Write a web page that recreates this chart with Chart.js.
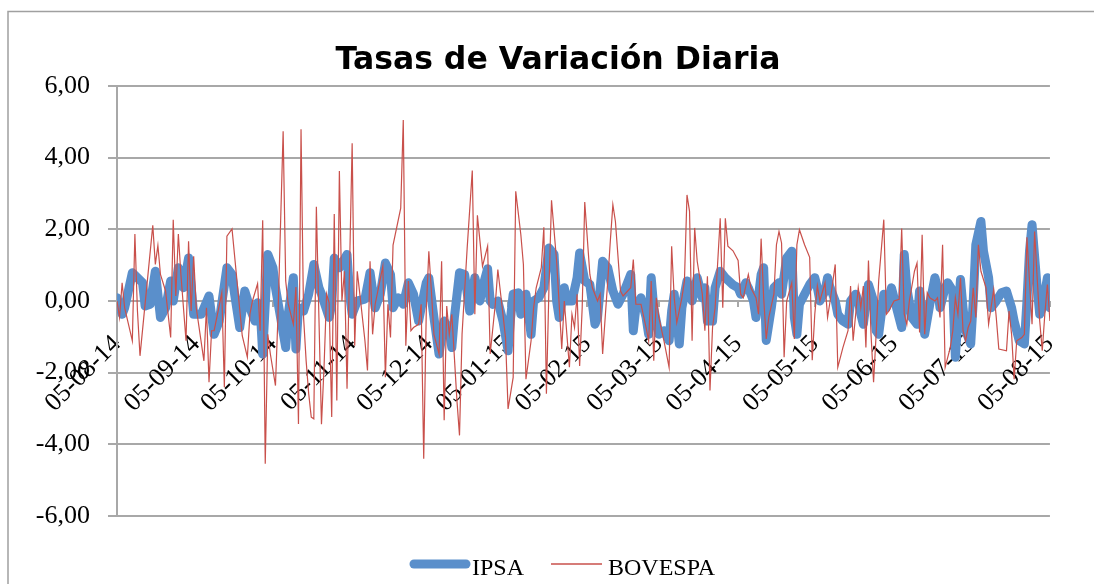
<!DOCTYPE html>
<html><head><meta charset="utf-8">
<script src="https://cdn.jsdelivr.net/npm/chart.js@4.4.1/dist/chart.umd.min.js"></script>
<style>html,body{margin:0;padding:0;background:#fff;}canvas{display:block;}</style>
</head><body>
<canvas id="c" width="1094" height="584" style="width:1094px;height:584px"></canvas>
<script>
// Day offsets are calendar days counted from 05-08-14 (day 0) to 05-08-15 (day 365)
const tickDays = [0, 31, 61, 92, 122, 153, 184, 212, 243, 273, 304, 334, 365];
const tickLabels = ["05-08-14","05-09-14","05-10-14","05-11-14","05-12-14","05-01-15","05-02-15","05-03-15","05-04-15","05-05-15","05-06-15","05-07-15","05-08-15"];

const ipsaDays = [0,2,3,6,8,10,11,13,15,17,19,21,22,24,26,28,30,33,36,38,40,43,45,46,48,50,52,54,55,56,57,59,61,62,64,66,67,69,70,71,73,75,77,79,80,83,84,85,87,90,91,92,94,97,99,101,103,105,107,108,110,112,114,116,118,119,121,122,124,126,128,130,131,132,134,136,138,140,142,143,145,146,147,149,151,153,154,155,157,158,160,162,163,165,167,169,171,172,173,175,176,178,180,181,183,185,187,188,190,192,194,196,198,201,202,203,205,207,208,209,210,212,214,216,217,218,220,221,223,225,227,229,230,231,233,234,236,238,241,243,244,246,247,249,250,252,253,254,256,257,259,260,262,264,265,266,267,269,271,273,274,275,277,278,279,281,282,284,286,287,289,290,291,292,294,296,297,298,300,301,303,305,307,308,309,311,313,314,315,316,318,320,321,322,324,325,327,328,330,331,332,334,335,336,338,339,341,342,344,346,348,350,351,353,355,356,357,358,360,361,362,364,365];
const ipsaValues = [0.09,-0.37,-0.19,0.79,0.65,0.51,-0.14,-0.09,0.83,-0.46,-0.19,0.56,0.00,0.93,0.37,1.20,-0.37,-0.37,0.14,-0.93,-0.56,0.93,0.74,0.20,-0.74,0.28,-0.19,-0.56,-0.05,-0.19,-1.48,1.30,0.93,0.37,-0.46,-1.30,-0.37,0.65,-1.34,-0.19,-0.28,0.19,1.02,0.37,0.19,-0.46,-0.09,1.20,0.93,1.30,0.19,-0.37,0.00,0.05,0.79,-0.19,0.19,1.06,0.74,-0.19,0.09,-0.09,0.51,0.19,-0.56,-0.19,0.51,0.65,-0.46,-1.48,-0.56,-0.83,-1.30,-0.46,0.79,0.74,-0.28,0.65,0.00,0.37,0.90,0.00,-0.09,0.00,-0.56,-1.39,-0.46,0.19,0.23,-0.37,0.19,-0.93,0.00,0.09,0.37,1.48,1.30,0.00,-0.46,0.37,0.00,0.00,0.65,1.34,0.56,0.46,-0.65,-0.46,1.11,0.93,0.28,-0.09,0.19,0.74,-0.83,-0.19,0.09,-0.46,-0.93,0.65,-0.19,-0.93,-0.83,-1.11,-0.28,0.19,-1.20,-0.19,0.56,0.00,0.65,0.09,0.37,-0.56,-0.56,0.37,0.83,0.65,0.45,0.37,0.19,0.51,0.37,0.00,-0.46,0.74,0.93,-1.10,-0.19,0.37,0.51,0.19,1.20,1.39,-0.46,-0.93,-0.09,0.19,0.46,0.65,0.37,0.00,0.28,0.65,0.37,0.00,-0.37,-0.56,-0.65,0.00,0.19,0.00,-0.37,-0.65,0.46,0.00,-0.83,-0.93,0.19,-0.19,0.37,-0.19,-0.74,1.30,0.37,-0.46,-0.65,0.28,-0.28,-0.93,-0.09,0.65,0.37,-0.19,0.37,0.51,0.28,-1.57,0.60,-0.19,-0.83,-1.20,0.00,1.57,2.22,1.39,0.65,-0.19,0.00,0.23,0.28,-0.19,-0.56,-1.11,-1.20,0.00,1.39,2.13,0.37,-0.37,-0.19,0.65,-0.19];

const bovespaDays = [0,1,2,3,6,7,8,9,14,15,16,17,19,21,22,23,24,25,27,28,29,30,31,34,35,36,37,38,41,42,43,45,49,51,52,53,55,56,57,58,59,60,62,63,65,66,67,69,70,71,72,73,74,75,76,77,78,79,80,81,82,83,84,85,86,87,88,89,90,92,93,94,95,97,98,99,100,101,104,105,106,107,108,111,112,113,114,115,116,118,119,120,121,122,123,124,126,127,128,129,130,131,133,134,135,137,139,140,141,142,143,145,146,148,149,151,152,153,155,156,158,159,160,162,163,164,166,167,168,169,170,172,173,174,175,176,177,178,179,180,181,182,183,185,186,188,189,190,192,193,194,195,197,198,201,202,203,205,207,208,209,210,211,212,214,216,217,218,219,221,222,223,224,225,226,227,229,230,231,232,233,234,236,237,238,239,241,243,244,245,247,248,250,251,252,253,254,255,257,258,259,260,261,262,264,265,266,267,269,271,272,273,274,275,277,278,279,281,282,284,286,287,288,289,290,291,292,293,294,295,296,297,298,300,301,302,304,306,307,308,309,310,312,313,314,315,316,317,318,320,321,322,323,324,326,327,328,329,330,331,332,333,334,335,336,337,338,340,341,343,344,345,348,349,350,351,352,354,355,356,357,358,359,360,361,362,363,364,365];
const bovespaValues = [0.00,-0.46,0.51,-0.19,-1.11,1.87,-0.28,-1.53,2.11,1.02,1.55,0.74,0.28,-1.02,2.27,0.14,1.87,0.74,-1.11,1.67,-0.28,1.25,-0.19,-1.67,-0.19,-2.27,-0.83,-0.83,0.23,-2.41,1.81,2.01,-0.97,-1.57,-0.37,0.00,0.48,-0.83,2.25,-4.54,-0.93,-1.48,-2.36,-0.37,4.74,0.56,-0.09,-0.65,0.39,-3.43,4.79,-0.46,-1.67,-2.59,-3.24,-3.29,2.63,-0.46,-3.44,-1.85,0.20,-0.05,-3.24,2.43,-2.78,3.63,0.00,0.83,-2.45,4.40,-1.25,0.83,0.20,-1.11,-1.94,1.11,-0.93,-0.09,0.97,-2.13,-0.09,-1.02,1.56,2.59,5.05,-1.25,0.56,-0.83,-0.74,-0.65,-0.09,-4.40,-0.28,1.39,0.28,-0.93,-1.48,1.11,-3.33,-0.14,-0.93,-0.37,-2.78,-3.75,-0.93,1.48,3.64,-0.37,2.39,1.67,0.97,1.53,-1.48,-0.09,0.88,-0.37,-1.02,-3.01,-2.13,3.06,1.85,1.02,-2.18,-1.11,-0.19,0.37,0.93,2.06,-2.59,0.37,2.81,1.11,-0.09,-1.34,0.00,-0.93,-1.85,-0.37,-0.74,0.19,-1.81,-0.19,2.76,0.74,0.37,0.00,0.19,-1.48,0.56,1.67,2.69,2.22,0.28,0.14,0.37,1.16,-0.09,-0.09,-0.74,-1.11,0.56,-1.67,0.09,-0.46,-1.11,-1.85,1.53,0.09,-0.60,0.09,0.56,2.96,2.50,-1.11,2.04,1.11,0.19,-0.83,0.69,-2.50,-0.74,-0.19,2.31,-0.19,2.31,1.53,1.40,1.13,0.19,0.09,0.74,0.37,0.09,-0.37,1.74,0.09,-1.06,-0.46,0.19,1.57,1.94,1.62,-1.57,0.00,0.51,-1.06,1.57,1.99,1.57,1.22,-1.65,-0.37,0.42,0.00,0.51,-0.46,0.00,1.02,-1.85,-1.30,-0.83,0.42,-1.11,-0.37,0.37,-0.19,0.42,-1.30,1.13,-0.93,-2.27,-0.93,0.56,2.27,-0.37,-0.28,0.00,0.05,2.02,-0.37,-0.65,0.00,0.83,1.06,-0.88,1.85,-0.93,0.23,0.09,0.00,0.09,-0.46,1.57,-1.85,-1.30,-0.83,0.09,-0.37,0.65,-0.83,-1.11,-0.74,-0.56,0.37,-0.46,1.57,0.83,0.37,-0.65,0.32,-0.46,-1.34,-1.39,-0.28,-0.93,-2.18,-1.11,-1.02,-0.93,1.78,0.56,-0.65,1.94,0.65,-0.56,-1.39,-0.37,0.46,-0.56];

const yMin = -6, yMax = 6, yStep = 2;
const titleText = "Tasas de Variación Diaria";
const blue = '#5A8FCB';
const red = '#C9504B';
const gridColor = '#A8A8A8';
const serif = "'Liberation Serif', 'DejaVu Serif', serif";

const toPoints = (days, vals) => days.map((d, i) => ({ x: d, y: vals[i] }));

const decorPlugin = {
  id: 'decor',
  beforeDraw(chart) {
    const c = chart.ctx;
    c.save();
    c.fillStyle = '#fff';
    c.fillRect(0, 0, chart.width, chart.height);
    c.strokeStyle = '#A0A0A0';
    c.lineWidth = 1.5;
    c.strokeRect(8, 11.5, 1200, 700);
    c.restore();
  },
  afterDraw(chart) {
    const c = chart.ctx;
    c.save();
    c.fillStyle = '#000';
    c.font = "bold 31.5px 'DejaVu Sans', sans-serif";
    c.textAlign = 'center';
    c.textBaseline = 'alphabetic';
    c.fillText(titleText, 558, 69);
    // legend
    const ds = chart.data.datasets;
    c.lineCap = 'round';
    c.strokeStyle = ds[0].borderColor;
    c.lineWidth = ds[0].borderWidth;
    c.beginPath(); c.moveTo(414, 564); c.lineTo(466, 564); c.stroke();
    c.lineCap = 'butt';
    c.strokeStyle = ds[1].borderColor;
    c.lineWidth = 1.5;
    c.beginPath(); c.moveTo(551, 564); c.lineTo(602, 564); c.stroke();
    c.font = "24px " + serif;
    c.textAlign = 'left';
    c.fillStyle = '#000';
    c.fillText(ds[0].label, 472, 575);
    c.fillText(ds[1].label, 608, 575);
    c.restore();
  }
};

new Chart(document.getElementById('c'), {
  type: 'line',
  data: {
    datasets: [
      { label: 'IPSA', data: toPoints(ipsaDays, ipsaValues), borderColor: blue, backgroundColor: blue,
        borderWidth: 9, borderCapStyle: 'round', borderJoinStyle: 'round', pointRadius: 0, tension: 0, order: 2 },
      { label: 'BOVESPA', data: toPoints(bovespaDays, bovespaValues), borderColor: red, backgroundColor: red,
        borderWidth: 1.2, pointRadius: 0, tension: 0, order: 1 }
    ]
  },
  options: {
    responsive: false,
    animation: false,
    layout: { padding: { top: 86, right: 41, bottom: 68, left: 0 } },
    plugins: { legend: { display: false }, title: { display: false }, tooltip: { enabled: false } },
    scales: {
      x: {
        type: 'linear', min: tickDays[0], max: tickDays[tickDays.length - 1],
        position: { y: 0 },
        afterBuildTicks: (s) => { s.ticks = tickDays.map(v => ({ value: v })); },
        ticks: {
          autoSkip: false, minRotation: 45, maxRotation: 45, padding: 22,
          color: '#000', font: { family: serif, size: 26 },
          callback: (v) => { const i = tickDays.indexOf(v); return i >= 0 ? tickLabels[i] : ''; }
        },
        grid: { drawOnChartArea: false, drawTicks: true, tickLength: 6, color: gridColor, lineWidth: 2 },
        border: { display: false }
      },
      y: {
        min: yMin, max: yMax,
        afterFit: (s) => { s.width = 117; },
        ticks: { stepSize: yStep, padding: 18, color: '#000', font: { family: serif, size: 26 },
          callback: (v) => v.toFixed(2).replace('.', ',') },
        grid: { color: gridColor, lineWidth: 2, tickLength: 9 },
        border: { color: gridColor, width: 2 }
      }
    }
  },
  plugins: [decorPlugin]
});
</script>
</body></html>
